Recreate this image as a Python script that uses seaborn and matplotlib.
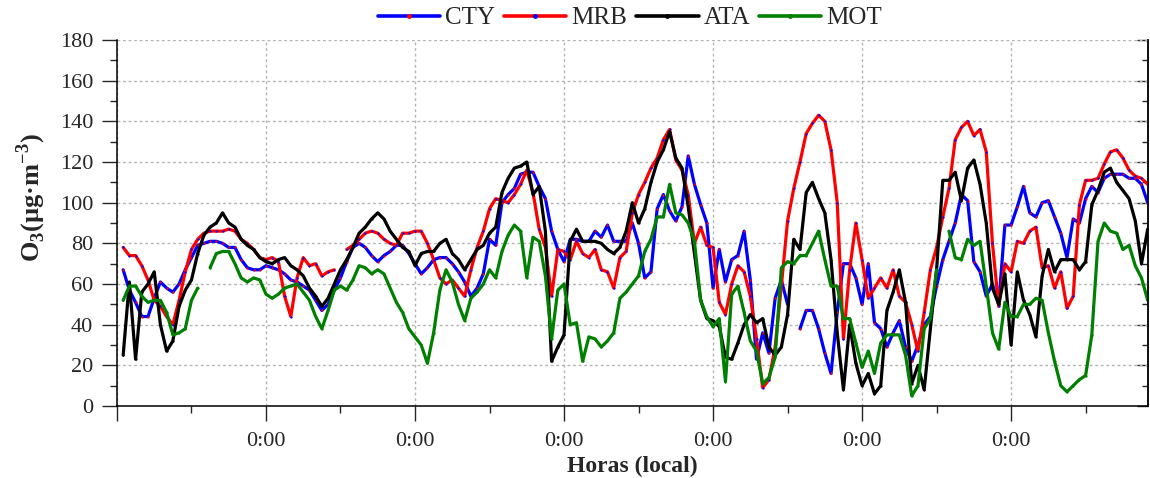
# O3 hourly series, 4 stations
import numpy as np
import pandas as pd
import matplotlib
matplotlib.use("Agg")
import matplotlib.pyplot as plt
import matplotlib.colors as mcolors
import seaborn as sns
from matplotlib.lines import Line2D
from matplotlib.ticker import MultipleLocator, FuncFormatter

nan = np.nan

# ------------------------------------------------------------
# Data (hours 1..166)
# ------------------------------------------------------------

hours = np.arange(1, 167)

stations = ["CTY", "MRB", "ATA", "MOT"]

cty = [67, 57, 51, 44, 44, 53, 61, 58, 56, 60,
       67, 73, 79, 80, 81, 81, 80, 78, 78, 72,
       68, 67, 67, 69, 68, 67, 65, 62, 61, 59,
       57, 52, 47, 50, 57, 63, 71, 78, 80, 78,
       74, 71, 74, 76, 79, 79, 75, 70, 65, 68,
       72, 73, 73, 70, 66, 61, 54, 58, 65, 82,
       79, 100, 104, 107, 114, 115, 115, 108, 102, 86,
       77, 71, 82, 82, 81, 81, 86, 83, 89, 81,
       81, 81, 90, 80, 63, 66, 97, 104, 96, 91,
       98, 123, 109, 99, 90, 58, 77, 61, 72, 74,
       86, 62, 23, 36, 26, 53, 62, 50, nan, 38,
       47, 47, 38, 26, 16, 46, 70, 70, 63, 50,
       70, 41, 38, 29, 36, 42, 29, 22, 30, 40,
       44, 59, 72, 81, 90, 104, 101, 71, 66, 54,
       60, 50, 89, 89, 98, 108, 95, 93, 100, 101,
       93, 85, 73, 92, 90, 102, 108, 105, 112, 114,
       114, 114, 112, 112, 109, 100]

mrb = [78, 74, 74, 69, 62, 52, 49, 44, 40, 52,
       66, 77, 82, 85, 86, 86, 86, 87, 86, 82,
       80, 77, 73, 72, 73, 71, 54, 44, 63, 73,
       69, 70, 64, 66, 67, nan, 77, 79, 82, 85,
       86, 85, 82, 80, 79, 85, 85, 86, 86, 80,
       72, 63, 60, 62, 58, 54, 67, 78, 86, 97,
       102, 101, 100, 104, 109, 116, 105, 87, 78, 54,
       77, 76, 72, 81, 75, 73, 77, 67, 66, 58,
       73, 76, 95, 104, 110, 117, 122, 131, 136, 121,
       116, 104, 80, 88, 79, 78, 51, 45, 60, 69,
       66, 54, 33, 9, 13, 29, 59, 91, 107, 120,
       134, 139, 143, 140, 126, 100, 33, 67, 90, 72,
       53, 58, 63, 58, 67, 54, 51, 40, 27, 46,
       67, 78, 93, 107, 131, 137, 140, 133, 136, 125,
       80, 49, 70, 66, 81, 80, 86, 88, 68, 69,
       58, 66, 48, 54, 99, 111, 111, 112, 119, 125,
       126, 122, 116, 113, 112, 109]

ata = [25, 61, 23, 56, 60, 66, 40, 27, 32, 49,
       57, 62, 75, 84, 88, 90, 95, 90, 88, 82,
       79, 77, 73, 71, 70, 72, 73, 69, 67, 64,
       58, 54, 49, 53, 60, 67, 72, 78, 85, 88,
       92, 95, 92, 86, 82, 78, 76, 69, 75, 76,
       76, 80, 82, 75, 72, 67, 72, 77, 79, 85,
       88, 105, 112, 117, 118, 120, 104, 108, 86, 22,
       29, 35, 81, 87, 81, 81, 81, 80, 77, 75,
       78, 86, 100, 90, 97, 110, 120, 126, 135, 122,
       117, 98, 75, 52, 43, 42, 39, 24, 23, 31,
       40, 45, 41, 43, 29, 25, 29, 45, 82, 77,
       105, 110, 102, 95, 72, 36, 8, 40, 21, 10,
       16, 6, 10, 47, 56, 67, 51, 11, 20, 8,
       38, 67, 111, 111, 115, 101, 117, 121, 109, 90,
       58, 50, 65, 30, 66, 52, 45, 34, 64, 77,
       66, 72, 72, 72, 67, 71, 99, 106, 115, 117,
       110, 106, 102, 91, 70, 87]

mot = [52, 59, 59, 54, 51, 52, 52, 46, 35, 36,
       38, 52, 58, nan, 68, 75, 76, 76, 70, 63,
       61, 63, 62, 55, 53, 55, 58, 59, 60, 56,
       52, 44, 38, 47, 57, 59, 57, 62, 69, 68,
       65, 67, 65, 58, 51, 46, 38, 34, 30, 21,
       36, 57, 67, 61, 50, 42, 53, 56, 60, 67,
       63, 76, 84, 89, 86, 63, 83, 81, 64, 33,
       57, 60, 40, 41, 22, 34, 33, 29, 32, 36,
       53, 56, 60, 64, 76, 82, 93, 93, 109, 95,
       94, 90, 81, 52, 44, 39, 43, 12, 55, 59,
       46, 32, 27, 11, 14, 24, 68, 71, 70, 74,
       74, 80, 86, 72, 59, 59, 43, 43, 31, 19,
       27, 16, 31, 35, 35, 35, 25, 5, 10, 38,
       43, 67, nan, 86, 73, 72, 82, 79, 81, 59,
       36, 28, 51, 44, 44, 50, 50, 53, 52, 36,
       22, 10, 7, 10, 13, 15, 35, 81, 90, 86,
       85, 77, 79, 69, 63, 52]

line_colors = {"CTY": "#0000ff", "MRB": "#ff0000", "ATA": "#000000", "MOT": "#008000"}
dot_colors = {"CTY": "#ff0000", "MRB": "#0000ff", "ATA": "#000000", "MOT": "#008000"}

# ------------------------------------------------------------
# Long table, with a segment id so gaps stay gaps
# ------------------------------------------------------------

frames = []
for name, vals in zip(stations, [cty, mrb, ata, mot]):
    v = np.array(vals, dtype=float)
    seg = np.cumsum(np.isnan(v))
    frames.append(pd.DataFrame({"hour": hours, "o3": v, "station": name, "seg": seg}))
df = pd.concat(frames, ignore_index=True)
df["unit"] = df["station"] + "_" + df["seg"].astype(str)

# ------------------------------------------------------------
# Plot
# ------------------------------------------------------------

sns.set_style("ticks")
plt.rcParams["font.family"] = ["Liberation Serif", "DejaVu Serif"]
plt.rcParams["mathtext.fontset"] = "custom"
plt.rcParams["mathtext.rm"] = "Liberation Serif"
plt.rcParams["mathtext.bf"] = "Liberation Serif:bold"

fig = plt.figure(figsize=(11.5, 4.78), dpi=100)
ax = fig.add_axes([0.1017, 0.1506, 0.8963, 0.7657])

sns.lineplot(data=df, x="hour", y="o3", hue="station", units="unit",
             estimator=None, palette=line_colors, linewidth=2.3,
             legend=False, sort=False, ax=ax)

hex_to_name = {mcolors.to_hex(c): n for n, c in line_colors.items()}
for ln in ax.lines:
    n = hex_to_name.get(mcolors.to_hex(ln.get_color()))
    if n:
        ln.set_marker("o")
        ln.set_markersize(1.6)
        ln.set_markeredgewidth(0)
        ln.set_markerfacecolor(dot_colors[n])

ax.set_xlim(0, 166)
ax.set_ylim(0, 180)

ax.xaxis.set_major_locator(MultipleLocator(24))
ax.xaxis.set_minor_locator(MultipleLocator(12))
ax.xaxis.set_major_formatter(FuncFormatter(lambda x, p: "0:00" if x > 0 else ""))
ax.yaxis.set_major_locator(MultipleLocator(20))
ax.yaxis.set_minor_locator(MultipleLocator(10))

ax.tick_params(which="major", direction="out", length=11, width=1, labelsize=16)
ax.tick_params(which="minor", direction="out", length=5, width=1)
ax.tick_params(axis="x", which="major", pad=8)
ax.tick_params(axis="y", which="major", pad=6)

ax.grid(True, which="major", color="#b4b4b4", linestyle=(0, (2, 2)), linewidth=1)

for side in ["left", "bottom", "right"]:
    ax.spines[side].set_linewidth(1.1)
    ax.spines[side].set_color("black")
ax.spines["top"].set_visible(False)

sec = ax.secondary_yaxis("right")
sec.yaxis.set_major_locator(MultipleLocator(20))
sec.yaxis.set_minor_locator(MultipleLocator(10))
sec.tick_params(which="major", direction="in", length=8, width=1, labelright=False)
sec.tick_params(which="minor", direction="in", length=4, width=1)
sec.spines["right"].set_linewidth(1.1)

ax.set_xlabel("Horas (local)", fontsize=17, fontweight="bold", labelpad=3)
ax.set_ylabel(r"O$_\mathbf{3}$(µg·m$^\mathbf{-3}$)", fontsize=19, fontweight="bold")
ax.yaxis.set_label_coords(-0.067, 0.571)

handles = [Line2D([0], [0], color=line_colors[n], lw=2.6, marker="o",
                  markersize=3.5, markeredgewidth=0,
                  markerfacecolor=dot_colors[n]) for n in stations]
ax.legend(handles, stations, loc="center", bbox_to_anchor=(0.4976, 1.06),
          ncol=4, frameon=False, fontsize=18, handlelength=2.5,
          handletextpad=0.2, columnspacing=0.35, borderaxespad=0)

fig.savefig("out.png", dpi=100)
